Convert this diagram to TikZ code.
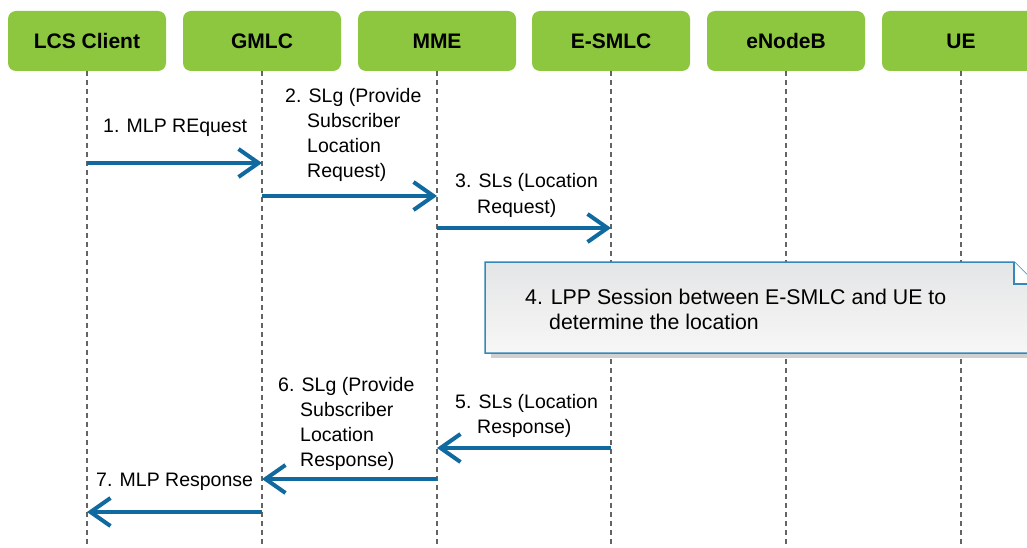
\documentclass[tikz,border=0pt]{standalone}
\usepackage{fontspec}
\setmainfont{Liberation Sans}
\usetikzlibrary{arrows.meta}
\definecolor{hdrgreen}{RGB}{141,198,63}
\definecolor{msgblue}{RGB}{16,106,160}
\definecolor{noteblue}{RGB}{52,137,186}
\definecolor{notetop}{RGB}{228,229,230}
\definecolor{notebot}{RGB}{247,247,247}
\definecolor{shadowgray}{RGB}{208,208,208}
\definecolor{lifegray}{RGB}{100,100,100}
\begin{document}
\begin{tikzpicture}[x=1pt,y=-1pt,
  hdr/.style={fill=hdrgreen, rounded corners=8pt, minimum width=158pt, minimum height=60pt,
              inner sep=0pt, font=\fontsize{21}{25}\selectfont\bfseries},
  life/.style={draw=lifegray, line width=1.5pt, dash pattern=on 5pt off 4pt},
  msg/.style={draw=msgblue, line width=4pt, -{Straight Barb[length=20pt,width=28pt,line width=4pt]}},
  lbl/.style={inner sep=0pt, font=\fontsize{19.5}{25}\selectfont, align=left, anchor=base west},
  notetext/.style={lbl, font=\fontsize{21.3}{25}\selectfont},
  notebox/.style={top color=notetop, bottom color=notebot, draw=noteblue, line width=1.5pt}
]
\useasboundingbox (0,0) rectangle (1027,548);
\clip (0,0) rectangle (1027,548);
\fill[white] (0,0) rectangle (1027,548);

% headers
\node[hdr] (lcs)  at (87,41)  {LCS Client};
\node[hdr] (gmlc) at (262,41) {GMLC};
\node[hdr] (mme)  at (437,41) {MME};
\node[hdr] (smlc) at (611,41) {E-SMLC};
\node[hdr] (enb)  at (786,41) {eNodeB};
\node[hdr] (ue)   at (961,41) {UE};

% lifelines
\foreach \n in {lcs,gmlc,mme,smlc,enb,ue}{
  \coordinate (\n-end) at (\n.south |- 0,548);
  \draw[life] (\n.south) -- (\n-end);
}

% note 4
\fill[shadowgray] (491,353) rectangle (1040,358);
\shade[notebox] (485,262) -- (1014,262) -- (1036,284) -- (1036,353) -- (485,353) -- cycle;
\draw[noteblue, fill=white, line width=1.5pt] (1014,262) -- (1014,284) -- (1036,284);
\node[notetext] (n4) at (525,329) {4. LPP Session between E-SMLC and UE to\\\hspace*{24pt}determine the location};

% messages (multi-line labels are placed at the baseline of their last line)
\draw[msg] (lcs |- 0,163)  -- (gmlc |- 0,163);
\node[lbl] (l1) at (103,133) {1. MLP REquest};

\draw[msg] (gmlc |- 0,196) -- (mme |- 0,196);
\node[lbl] (l2) at (285,178) {2. SLg (Provide\\\hspace*{22pt}Subscriber\\\hspace*{22pt}Location\\\hspace*{22pt}Request)};

\draw[msg] (mme |- 0,228)  -- (smlc |- 0,228);
\node[lbl] (l3) at (455,213) {3. SLs (Location\\\hspace*{22pt}Request)};

\draw[msg] (smlc |- 0,448) -- (mme |- 0,448);
\node[lbl] (l5) at (455,433) {5. SLs (Location\\\hspace*{22pt}Response)};

\draw[msg] (mme |- 0,479)  -- (gmlc |- 0,479);
\node[lbl] (l6) at (278,466) {6. SLg (Provide\\\hspace*{22pt}Subscriber\\\hspace*{22pt}Location\\\hspace*{22pt}Response)};

\draw[msg] (gmlc |- 0,512) -- (lcs |- 0,512);
\node[lbl] (l7) at (96,486) {7. MLP Response};
\end{tikzpicture}
\end{document}
